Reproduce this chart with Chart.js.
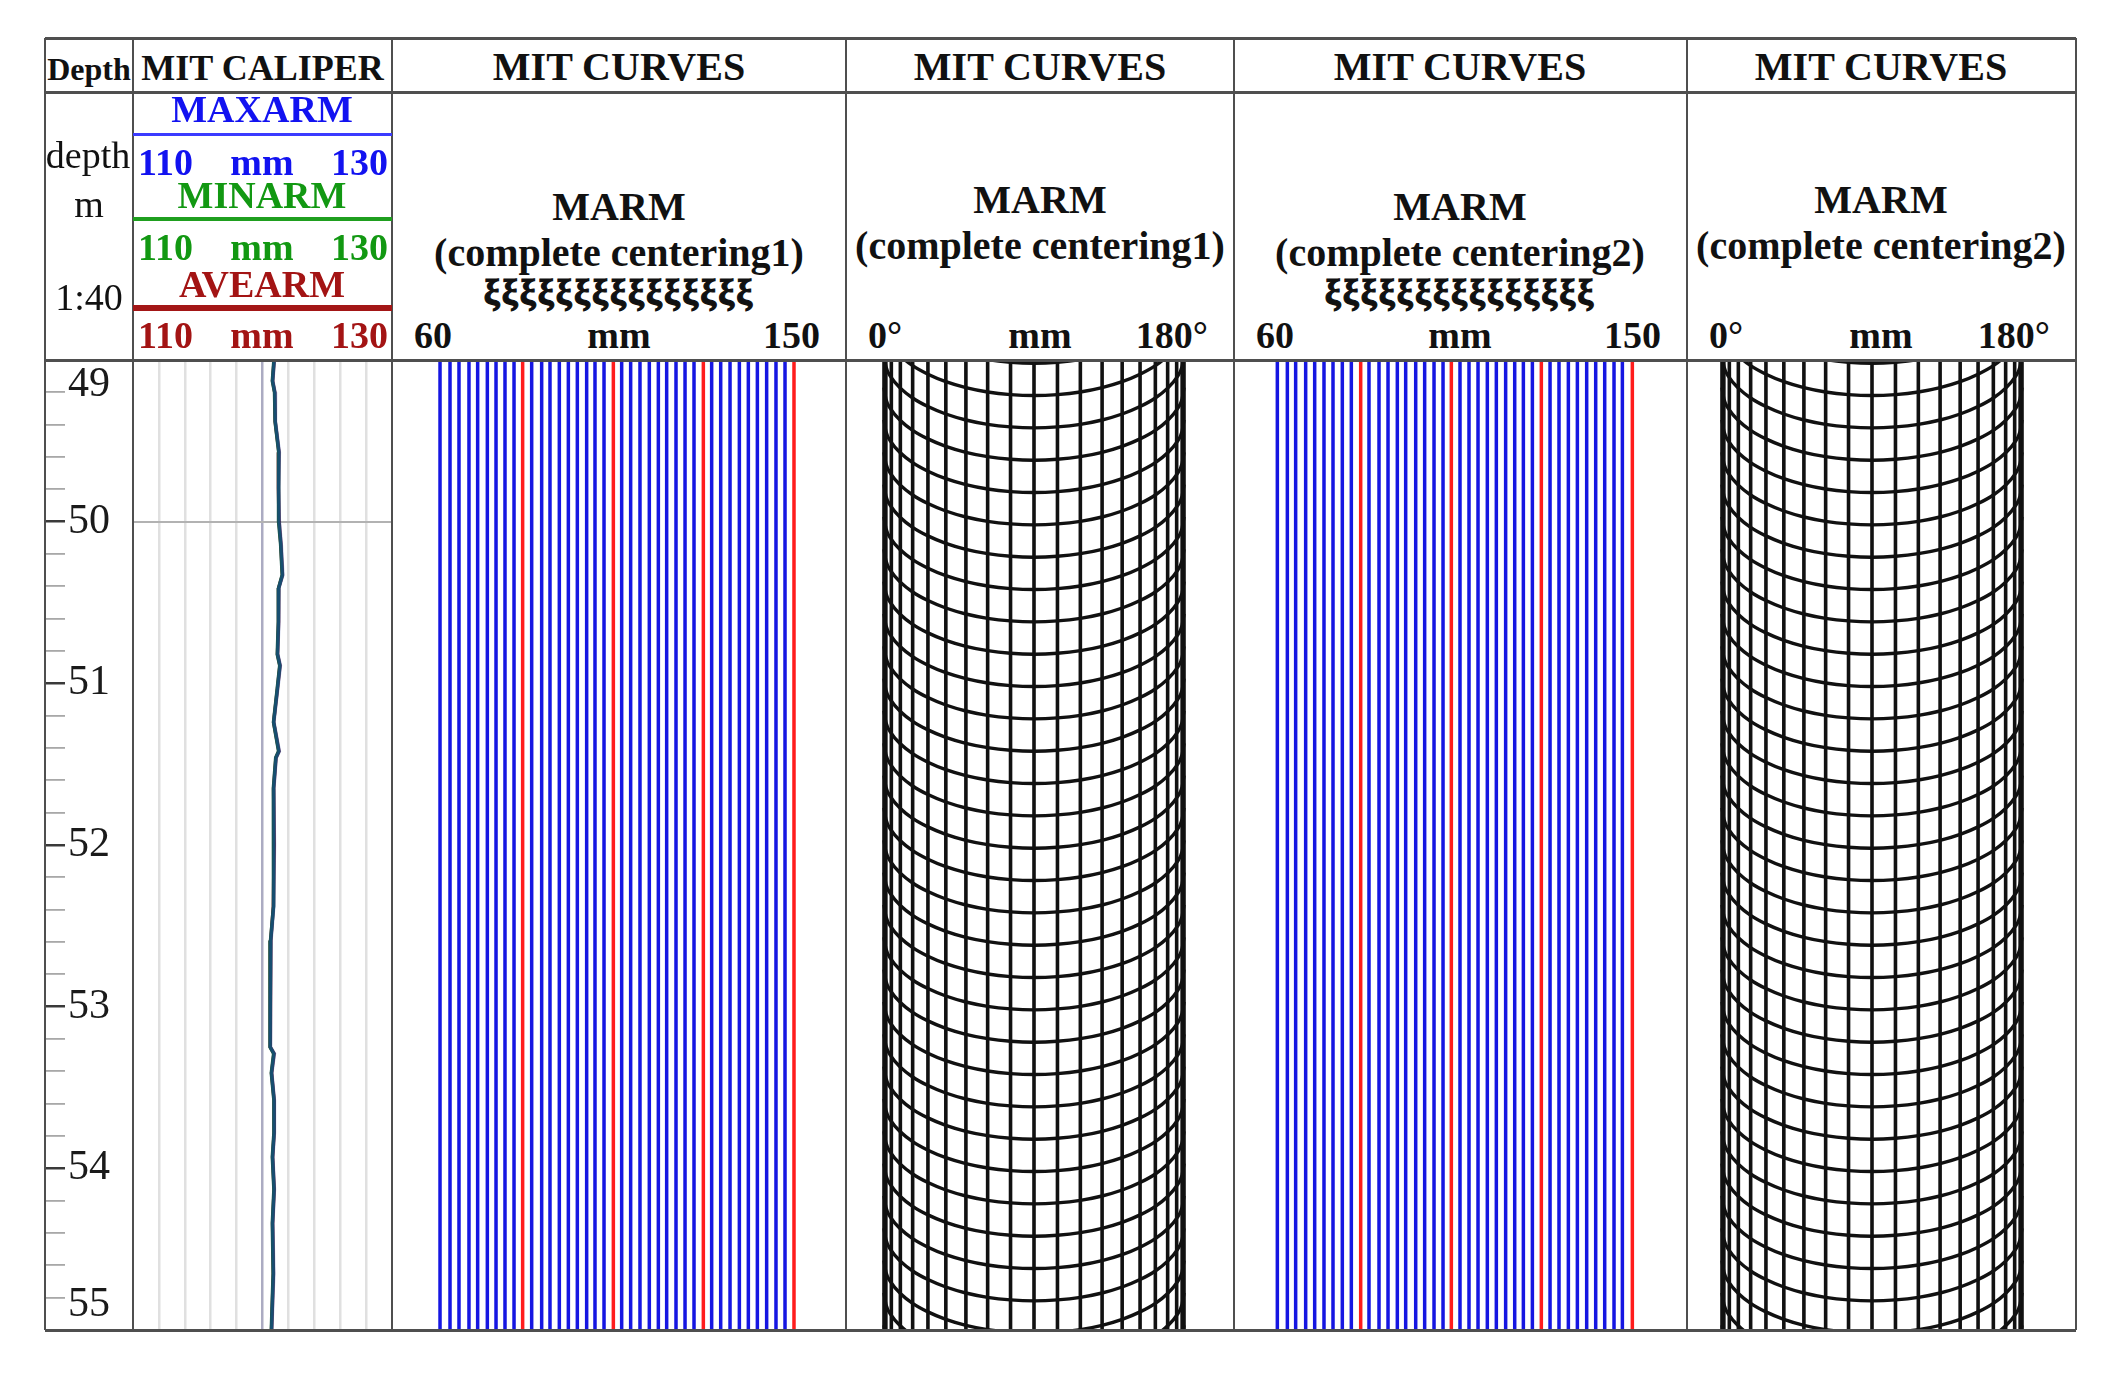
<!DOCTYPE html>
<html>
<head>
<meta charset="utf-8">
<script src="https://cdn.jsdelivr.net/npm/chart.js"></script>
<style>
body { margin: 0; background: #fff; width: 2111px; height: 1391px; position: relative; overflow: hidden;
       font-family: "Liberation Serif", "DejaVu Serif", serif; color: #111; }
canvas { position: absolute; }
.ln { position: absolute; background: #4f4f4f; z-index: 5; }
.tx { position: absolute; white-space: nowrap; line-height: 1; z-index: 6; }
</style>
</head>
<body>
<script>
// depth axis (m)
var depthMin = 49, depthMax = 55;
var depthLabels = [49, 50, 51, 52, 53, 54, 55];

// MIT caliper curves (mm)
var caliperDepth = [49.0, 49.13, 49.2, 49.38, 49.57, 49.79, 50.0, 50.14, 50.33, 50.41, 50.62, 50.82, 50.89, 51.03, 51.24, 51.42,
                    51.46, 51.65, 52.0, 52.38, 52.59, 53.0, 53.25, 53.29, 53.41, 53.58, 53.78, 53.93, 54.13, 54.34, 54.65, 55.0];
var maxArm = [120.92, 120.80, 120.97, 121.00, 121.30, 121.25, 121.30, 121.45, 121.57, 121.27, 121.26, 121.18, 121.38, 121.18, 120.88, 121.30,
              121.06, 120.88, 120.92, 120.87, 120.66, 120.62, 120.62, 120.92, 120.72, 120.92, 120.92, 120.80, 120.92, 120.80, 120.87, 120.72];
var minArm = [120.88, 120.76, 120.93, 120.97, 121.25, 121.21, 121.27, 121.40, 121.52, 121.24, 121.22, 121.14, 121.33, 121.14, 120.85, 121.24,
              121.02, 120.84, 120.88, 120.82, 120.62, 120.58, 120.58, 120.86, 120.68, 120.88, 120.88, 120.76, 120.88, 120.76, 120.82, 120.68];
var aveArm = [120.90, 120.78, 120.95, 120.98, 121.27, 121.23, 121.28, 121.42, 121.54, 121.25, 121.24, 121.16, 121.35, 121.16, 120.86, 121.27,
              121.04, 120.86, 120.90, 120.84, 120.64, 120.60, 120.60, 120.89, 120.70, 120.90, 120.90, 120.78, 120.90, 120.78, 120.84, 120.70];

// MIT finger curves (mm), complete centering 1 and 2
var arms1 = [69.52, 71.50, 73.28, 75.26, 76.98, 78.90, 80.62, 82.40, 84.19, 85.90,
             87.69, 89.67, 91.32, 93.17, 94.96, 96.74, 98.59, 100.24, 102.03, 103.88,
             105.53, 107.31, 109.16, 111.01, 112.80, 114.45, 116.30, 118.09, 119.87, 121.72,
             123.37, 125.16, 127.01, 128.86, 130.64, 132.43, 134.27, 136.12, 137.91, 139.69];
var arms2 = [68.61, 70.60, 72.25, 74.24, 76.03, 77.88, 79.67, 81.52, 83.31, 85.17,
             86.82, 88.81, 90.60, 92.45, 94.11, 96.10, 97.88, 99.74, 101.53, 103.18,
             104.90, 106.69, 108.48, 110.33, 112.12, 113.97, 115.77, 117.49, 119.28, 121.06,
             122.79, 124.57, 126.43, 128.22, 130.07, 131.86, 133.65, 135.50, 137.16, 139.14];

// borehole image (0..180 deg): meridian positions, ring offsets and ring depths
var meridianPos = [0, 1.11, 4.40, 9.81, 17.19, 26.36, 37.10, 49.14, 62.19, 75.92, 90,
                   104.08, 117.81, 130.86, 142.90, 153.64, 162.81, 170.19, 175.60, 178.89, 180];
var ringSag = [0, 0.070, 0.139, 0.204, 0.265, 0.318, 0.364, 0.401, 0.428, 0.444, 0.450,
               0.444, 0.428, 0.401, 0.364, 0.318, 0.265, 0.204, 0.139, 0.070, 0];
var ringTops = [48.57, 48.77, 48.97, 49.17, 49.37, 49.57, 49.77, 49.97, 50.17, 50.37, 50.57, 50.77, 50.97, 51.17, 51.37, 51.57, 51.77,
                51.97, 52.17, 52.37, 52.57, 52.77, 52.97, 53.17, 53.37, 53.57, 53.77, 53.97, 54.17, 54.37, 54.57, 54.77, 54.97];

var top0 = 360, bot0 = 1330;
var cols = [45, 133, 392, 846, 1234, 1687, 2076];

function makeCanvas(x, y, w, h) {
  var c = document.createElement('canvas');
  c.width = w; c.height = h;
  c.style.left = x + 'px'; c.style.top = y + 'px';
  c.style.width = w + 'px'; c.style.height = h + 'px';
  document.body.appendChild(c);
  return c;
}

function line(x, y, w, h, color) {
  var d = document.createElement('div');
  d.className = 'ln';
  d.style.left = x + 'px'; d.style.top = y + 'px';
  d.style.width = w + 'px'; d.style.height = h + 'px';
  if (color) d.style.background = color;
  document.body.appendChild(d);
}

function txt(s, x, base, size, bold, color, align) {
  var d = document.createElement('div');
  d.className = 'tx';
  d.textContent = s;
  d.style.fontSize = size + 'px';
  d.style.fontWeight = bold ? 'bold' : 'normal';
  if (color) d.style.color = color;
  d.style.left = x + 'px';
  d.style.top = (base - 0.8375 * size) + 'px';
  if (align === 'right') d.style.transform = 'translateX(-100%)';
  else if (align !== 'left') d.style.transform = 'translateX(-50%)';
  document.body.appendChild(d);
  return d;
}

function baseOptions(xMin, xMax) {
  return {
    responsive: false,
    animation: false,
    events: [],
    layout: { padding: 0, autoPadding: false },
    plugins: { legend: { display: false }, tooltip: { enabled: false } },
    elements: { point: { radius: 0 } },
    scales: {
      x: { type: 'linear', min: xMin, max: xMax, display: false },
      y: { type: 'linear', min: depthMin, max: depthMax, reverse: true, display: false }
    }
  };
}

// ---- depth track
var depthOpts = baseOptions(0, 1);
depthOpts.layout.padding = { top: 60, bottom: 60, left: 0, right: 0 };
depthOpts.scales.y = {
  type: 'linear', position: 'right', min: depthMin, max: depthMax, reverse: true,
  border: { display: false },
  grid: {
    drawTicks: false,
    color: function (c) { return Math.abs(c.tick.value - Math.round(c.tick.value)) < 1e-6 ? '#3a3a3a' : '#a8a8a8'; },
    lineWidth: function (c) { return Math.abs(c.tick.value - Math.round(c.tick.value)) < 1e-6 ? 2.5 : 1.8; }
  },
  afterFit: function (s) { s.width = 68; },
  ticks: {
    stepSize: 0.2, autoSkip: false, padding: 3, crossAlign: 'near', color: '#1a1a1a',
    font: { family: 'Liberation Serif', size: 42, lineHeight: 1.2 },
    callback: function (v) {
      var r = Math.round(v);
      if (Math.abs(v - r) > 1e-6 || depthLabels.indexOf(r) < 0) return '';
      if (r === depthLabels[0]) return ['', String(r)];
      if (r === depthLabels[depthLabels.length - 1]) return [String(r), ''];
      return String(r);
    }
  }
};
new Chart(makeCanvas(45, top0 - 60, 88, bot0 - top0 + 120), { type: 'scatter', data: { datasets: [] }, options: depthOpts });

// ---- caliper track
function pts(xs, ys) { return xs.map(function (v, i) { return { x: v, y: ys[i] }; }); }
var calOpts = baseOptions(110, 130);
calOpts.scales.x = {
  type: 'linear', min: 110, max: 130, display: true, border: { display: false },
  ticks: { display: false, stepSize: 2 },
  grid: {
    drawTicks: false, lineWidth: 2.5,
    color: function (c) { var v = c.tick.value; return (v === 110 || v === 130) ? 'rgba(0,0,0,0)' : (v === 120 ? '#ababc2' : '#e0e0e0'); }
  }
};
calOpts.scales.y = {
  type: 'linear', min: depthMin, max: depthMax, reverse: true, display: true, border: { display: false },
  ticks: { display: false, stepSize: 1 },
  grid: { drawTicks: false, lineWidth: 2, color: function (c) { return c.tick.value === 50 ? '#b2b2b2' : 'rgba(0,0,0,0)'; } }
};
// first dataset is drawn on top
new Chart(makeCanvas(133, top0, 259, bot0 - top0), {
  type: 'scatter',
  data: { datasets: [
    { label: 'MAXARM', data: pts(maxArm, caliperDepth), showLine: true, borderColor: 'rgba(20,60,170,0.4)', borderWidth: 3.5 },
    { label: 'MINARM', data: pts(minArm, caliperDepth), showLine: true, borderColor: '#1a5a4a', borderWidth: 3.5 },
    { label: 'AVEARM', data: pts(aveArm, caliperDepth), showLine: true, borderColor: '#7a1c1c', borderWidth: 3.5 }
  ] },
  options: calOpts
});

// ---- MIT finger tracks
function armSets(arms) {
  return arms.map(function (v, i) {
    return { data: [{ x: v, y: depthMin }, { x: v, y: depthMax }], showLine: true,
             borderColor: (i + 1) % 10 === 0 ? '#ff1c1c' : '#1616e2', borderWidth: 3.5 };
  });
}
new Chart(makeCanvas(392, top0, 454, bot0 - top0), { type: 'scatter', data: { datasets: armSets(arms1) }, options: baseOptions(60, 150) });
new Chart(makeCanvas(1234, top0, 453, bot0 - top0), { type: 'scatter', data: { datasets: armSets(arms2) }, options: baseOptions(60, 150) });

// ---- borehole image tracks
function meshSets() {
  var sets = meridianPos.map(function (p) {
    return { data: [{ x: p, y: depthMin }, { x: p, y: depthMax }], showLine: true, borderColor: '#111', borderWidth: 3.6 };
  });
  ringTops.forEach(function (r) {
    sets.push({ data: meridianPos.map(function (p, i) { return { x: p, y: r + ringSag[i] }; }),
                showLine: true, borderColor: '#111', borderWidth: 3.4, cubicInterpolationMode: 'monotone' });
  });
  return sets;
}
new Chart(makeCanvas(846, top0, 388, bot0 - top0), { type: 'scatter', data: { datasets: meshSets() }, options: baseOptions(-22.8, 210) });
new Chart(makeCanvas(1687, top0, 389, bot0 - top0), { type: 'scatter', data: { datasets: meshSets() }, options: baseOptions(-21, 212.4) });

// ---- frame
[38, 92, 360, 1330].forEach(function (y) { line(45, y - 1.5, 2031, 3); });
cols.forEach(function (x) { line(x - 1.25, 38, 2.5, 1292); });
line(133, 133, 259, 2.5, '#3b3bff');
line(133, 217, 259, 4, '#1f9f1f');
line(133, 305, 259, 6, '#a31616');

// ---- header texts
txt('Depth', 89, 80, 32, true);
txt('MIT CALIPER', 262.5, 80, 36, true);
var centers = [619, 1040, 1460, 1881];
centers.forEach(function (c) { txt('MIT CURVES', c, 80, 40, true); });

txt('depth', 88, 168, 38, false);
txt('m', 89, 217, 38, false);
txt('1:40', 89, 310, 38, false);

var blue = '#1212f0', green = '#129812', dred = '#a31414';
function scaleRow(a, m, b, base, color, l, c, r) {
  txt(a, l, base, 38, true, color, 'left');
  txt(m, c, base, 38, true, color);
  txt(b, r, base, 38, true, color, 'right');
}
txt('MAXARM', 262, 122, 38, true, blue);
scaleRow('110', 'mm', '130', 175, blue, 138, 262, 388);
txt('MINARM', 262, 208, 38, true, green);
scaleRow('110', 'mm', '130', 260, green, 138, 262, 388);
txt('AVEARM', 262, 297, 38, true, dred);
scaleRow('110', 'mm', '130', 348, dred, 138, 262, 388);

var trackHead = [
  { c: 619, l: 392, r: 846, name: '(complete centering1)', wave: true, sc: ['60', 'mm', '150'] },
  { c: 1040, l: 846, r: 1234, name: '(complete centering1)', wave: false, sc: ['0\u00b0', 'mm', '180\u00b0'] },
  { c: 1460, l: 1234, r: 1687, name: '(complete centering2)', wave: true, sc: ['60', 'mm', '150'] },
  { c: 1881, l: 1687, r: 2076, name: '(complete centering2)', wave: false, sc: ['0\u00b0', 'mm', '180\u00b0'] }
];
trackHead.forEach(function (t) {
  txt('MARM', t.c, t.wave ? 220 : 213, 40, true);
  txt(t.name, t.c, t.wave ? 266 : 259, 40, true);
  if (t.wave) {
    var w = txt('\u03be\u03be\u03be\u03be\u03be\u03be\u03be\u03be\u03be\u03be\u03be\u03be\u03be\u03be\u03be', t.c, 304, 36, true);
    w.style.webkitTextStroke = '1.2px #111';
    w.style.letterSpacing = '2px';
  }
  scaleRow(t.sc[0], t.sc[1], t.sc[2], 348, '#111', t.l + 22, t.c, t.r - 26);
});
</script>
</body>
</html>
